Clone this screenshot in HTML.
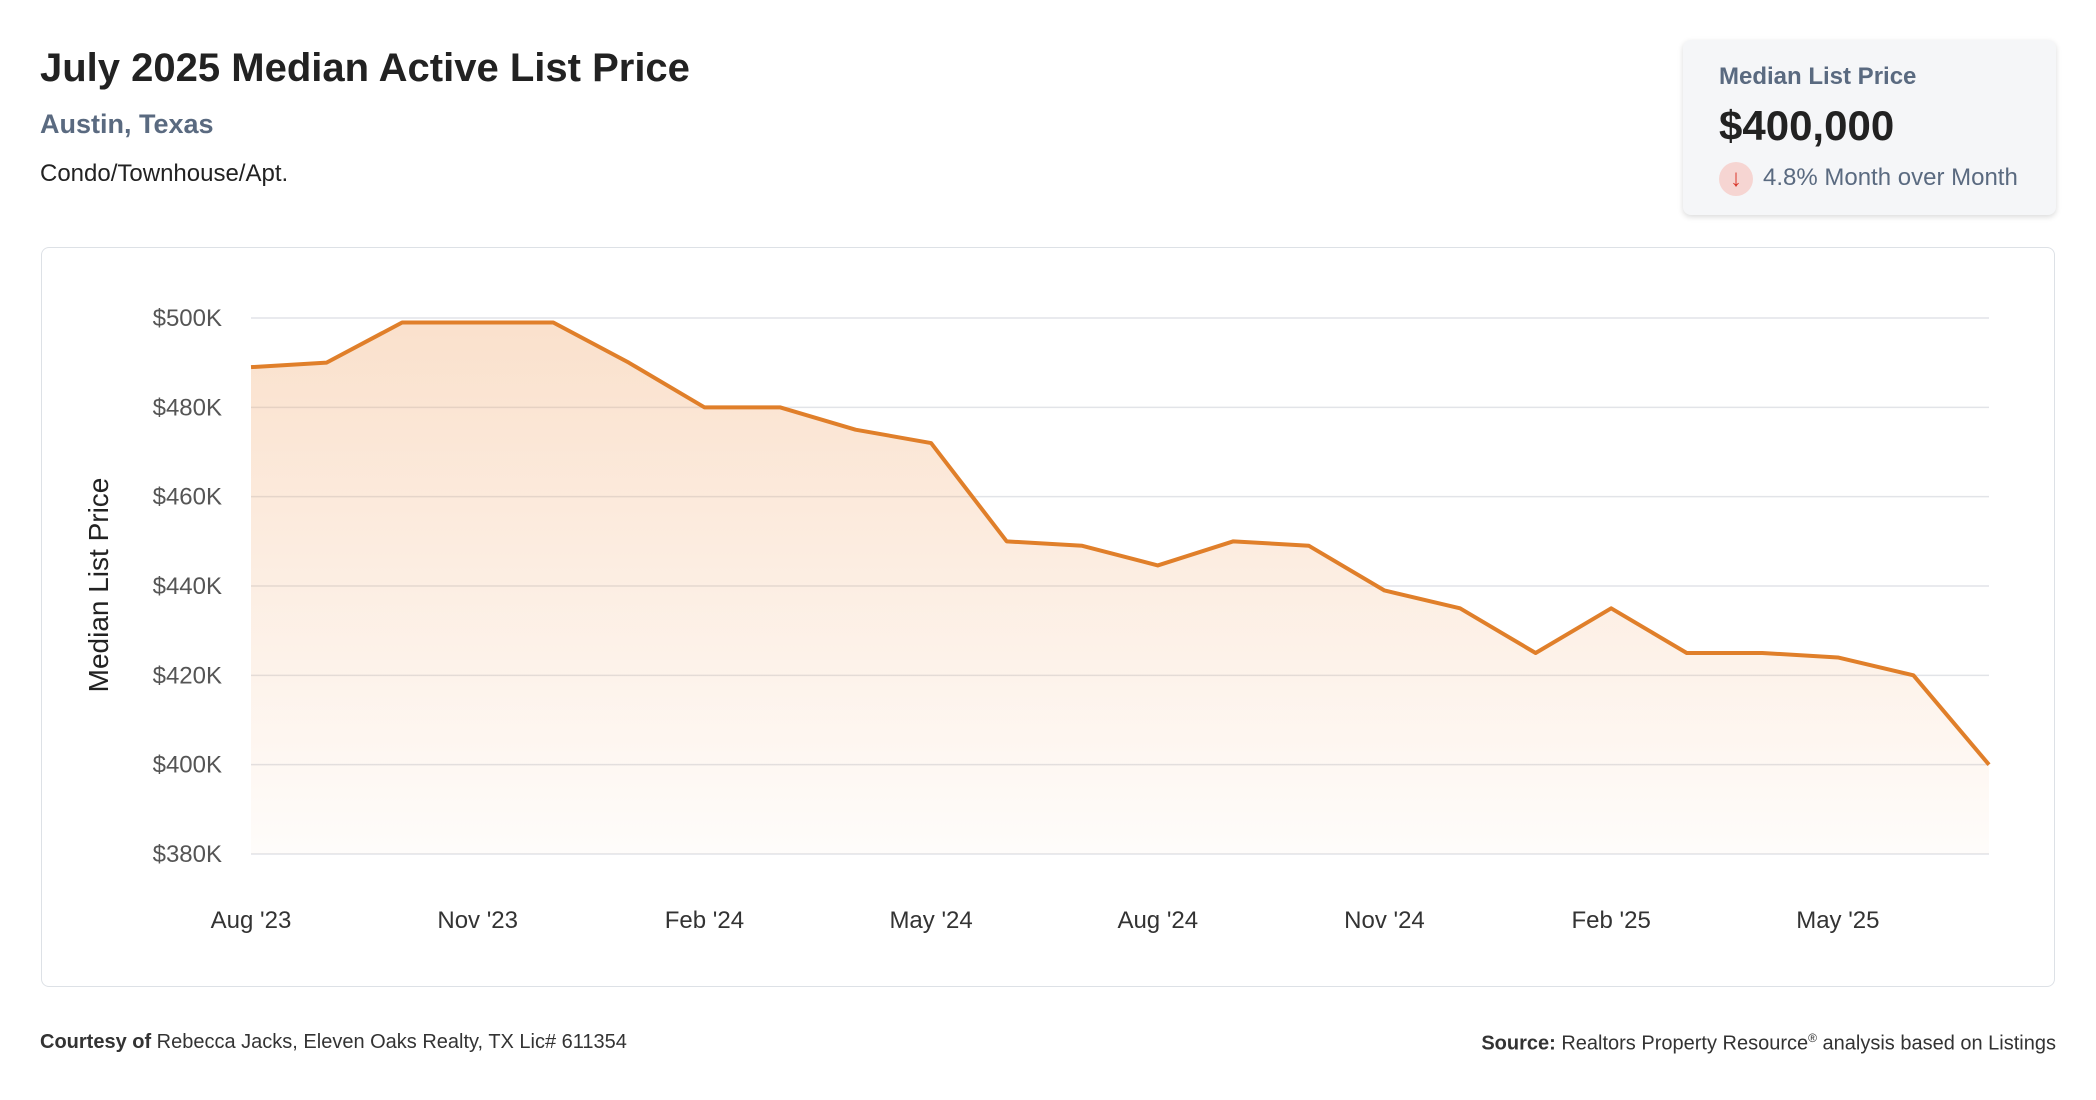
<!DOCTYPE html>
<html><head><meta charset="utf-8">
<style>
body{margin:0;width:2096px;height:1100px;background:#fff;font-family:"Liberation Sans",sans-serif;overflow:hidden;position:relative}
.t{position:absolute;white-space:nowrap}
</style></head><body>
<div class="t" style="left:40px;top:46px;font-size:40px;font-weight:bold;color:#222">July 2025 Median Active List Price</div>
<div class="t" style="left:40px;top:109px;font-size:27px;font-weight:bold;color:#5a6a80">Austin, Texas</div>
<div class="t" style="left:40px;top:160px;font-size:24px;color:#222">Condo/Townhouse/Apt.</div>
<div style="position:absolute;left:1683px;top:40px;width:373px;height:175px;background:#f5f6f8;border-radius:8px;box-shadow:0 2px 6px rgba(0,0,0,0.15)">
 <div class="t" style="left:36px;top:23px;font-size:24px;font-weight:bold;color:#5a6a80">Median List Price</div>
 <div class="t" style="left:36px;top:62px;font-size:42px;font-weight:bold;color:#222">$400,000</div>
 <div style="position:absolute;left:36px;top:122px;width:34px;height:34px;border-radius:50%;background:#f6d5d2;color:#d9382c;font-size:24px;text-align:center;line-height:34px">↓</div>
 <div class="t" style="left:80px;top:124px;font-size:24px;color:#5a6a80">4.8% Month over Month</div>
</div>
<div style="position:absolute;left:41px;top:247px;width:2012px;height:738px;border:1.5px solid #dde1e6;border-radius:8px"></div>
<svg id="chart" style="position:absolute;left:0;top:0" width="2096" height="1100"></svg>
<div class="t" style="left:40px;top:1031px;font-size:20px;color:#333"><b>Courtesy of</b> Rebecca Jacks, Eleven Oaks Realty, TX Lic# 611354</div>
<div class="t" style="right:40px;top:1031px;font-size:20px;color:#333"><b>Source:</b> Realtors Property Resource<sup style="font-size:12px">®</sup> analysis based on Listings</div>
<script>
const months=["Aug '23","Sep '23","Oct '23","Nov '23","Dec '23","Jan '24","Feb '24","Mar '24","Apr '24","May '24","Jun '24","Jul '24","Aug '24","Sep '24","Oct '24","Nov '24","Dec '24","Jan '25","Feb '25","Mar '25","Apr '25","May '25","Jun '25","Jul '25"];
const values=[489,490,499,499,499,490,480,480,475,472,450,449,444.6,450,449,439,435,425,435,425,425,424,420,400];
const yTicks=[380,400,420,440,460,480,500];
const xTickIdx=[0,3,6,9,12,15,18,21];
const NS="http://www.w3.org/2000/svg",svg=document.getElementById('chart');
const X0=251,X1=1989,Y0=854,Y1=318,ymin=380,ymax=500;
const x=i=>X0+(X1-X0)*i/(months.length-1);
const y=v=>Y0-(v-ymin)/(ymax-ymin)*(Y0-Y1);
function mk(t,a){const e=document.createElementNS(NS,t);for(const k in a)e.setAttribute(k,a[k]);svg.appendChild(e);return e;}
const defs=mk('defs',{});defs.innerHTML='<linearGradient id="g" x1="0" y1="0" x2="0" y2="1"><stop offset="0" stop-color="#f0a060" stop-opacity="0.32"/><stop offset="1" stop-color="#f0a060" stop-opacity="0.03"/></linearGradient>';
yTicks.forEach(v=>{
 const l=mk('line',{x1:X0,x2:X1,y1:y(v),y2:y(v),stroke:'#e2e4e8','stroke-width':1.5});
 
 const t=mk('text',{x:222,y:y(v)+8,'text-anchor':'end','font-size':24,fill:'#555','font-family':'Liberation Sans'});
 t.textContent='$'+v+'K';
 
});
xTickIdx.forEach(i=>{
 const t=mk('text',{x:x(i),y:928,'text-anchor':'middle','font-size':24,fill:'#333','font-family':'Liberation Sans'});
 t.textContent=months[i];
 
});
const yt=mk('text',{x:0,y:0,transform:'translate(108,585) rotate(-90)','text-anchor':'middle','font-size':28,fill:'#222','font-family':'Liberation Sans'});
yt.textContent='Median List Price';

let d=values.map((v,i)=>(i?'L':'M')+x(i)+','+y(v)).join(' ');
const area=mk('path',{d:d+` L${x(values.length-1)},${Y0} L${X0},${Y0} Z`,fill:'url(#g)'});

const line=mk('path',{d:d,fill:'none',stroke:'#e07f2a','stroke-width':4,'stroke-linejoin':'round'});

</script>
</body></html>
